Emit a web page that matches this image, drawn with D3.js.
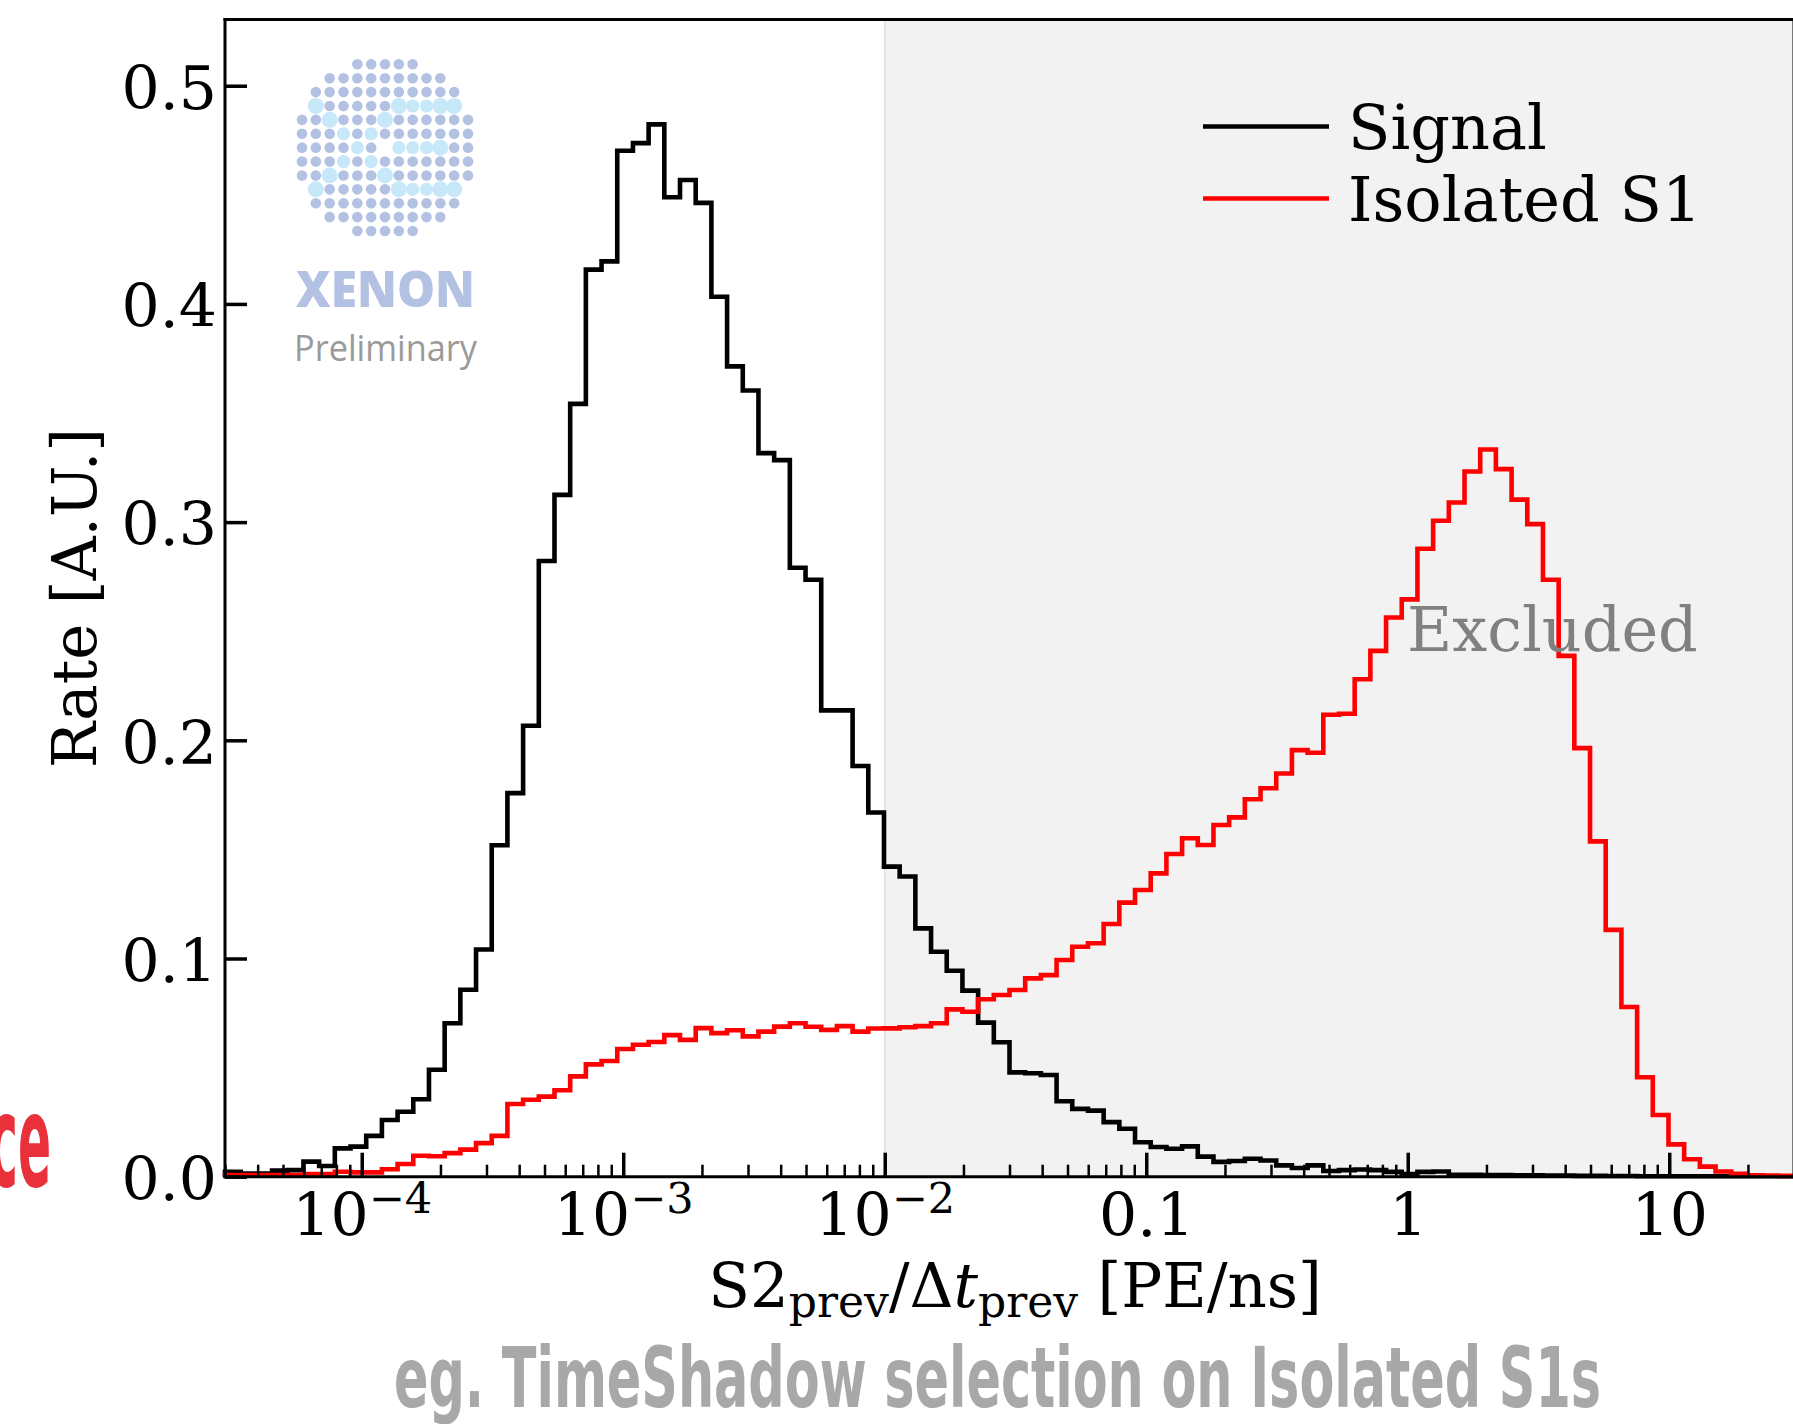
<!DOCTYPE html>
<html>
<head>
<meta charset="utf-8">
<script src="https://cdn.jsdelivr.net/npm/d3@7"></script>
<style>
  body { margin: 0; background: #fff; }
  svg { display: block; }
</style>
</head>
<body>
<svg id="chart" width="1793" height="1424"></svg>
<script>
// Histogram binning: 100 log-spaced bins
const binLo = 3e-5;
const binHi = 30;
const nBins = 100;
const excludedFrom = 1e-2;

// Normalised rates per bin
const signal = [
  0.0023, 0.0015, 0.0015, 0.0028, 0.0030, 0.0069, 0.0049, 0.0130, 0.0138, 0.0187,
  0.0260, 0.0298, 0.0355, 0.0490, 0.0703, 0.0857, 0.1041, 0.1519, 0.1758, 0.2067,
  0.2822, 0.3125, 0.3542, 0.4157, 0.4195, 0.4702, 0.4737, 0.4823, 0.4489, 0.4568,
  0.4463, 0.4033, 0.3714, 0.3603, 0.3316, 0.3284, 0.2791, 0.2736, 0.2137, 0.2137,
  0.1882, 0.1669, 0.1421, 0.1376, 0.1138, 0.1031, 0.0944, 0.0853, 0.0706, 0.0616,
  0.0478, 0.0474, 0.0466, 0.0346, 0.0311, 0.0303, 0.0250, 0.0220, 0.0158, 0.0136,
  0.0128, 0.0139, 0.0092, 0.0068, 0.0072, 0.0082, 0.0074, 0.0052, 0.0040, 0.0052,
  0.0026, 0.0030, 0.0033, 0.0030, 0.0022, 0.0012, 0.0022, 0.0024, 0.0009, 0.0009,
  0.0008, 0.0007, 0.0006, 0.0006, 0.0005, 0.0005, 0.0004, 0.0004, 0.0003, 0.0003,
  0.0002, 0.0002, 0.0002, 0.0002, 0.0002, 0.0002, 0.0002, 0.0002, 0.0002, 0.0002
];

const isolatedS1 = [
  0.0008, 0.0008, 0.0008, 0.0008, 0.0008, 0.0012, 0.0012, 0.0023, 0.0020, 0.0020,
  0.0034, 0.0058, 0.0096, 0.0094, 0.0108, 0.0124, 0.0154, 0.0187, 0.0333, 0.0353,
  0.0367, 0.0396, 0.0460, 0.0515, 0.0530, 0.0585, 0.0605, 0.0617, 0.0649, 0.0627,
  0.0681, 0.0658, 0.0671, 0.0643, 0.0665, 0.0688, 0.0703, 0.0687, 0.0673, 0.0690,
  0.0665, 0.0679, 0.0680, 0.0685, 0.0690, 0.0703, 0.0767, 0.0756, 0.0813, 0.0833,
  0.0856, 0.0909, 0.0924, 0.0993, 0.1054, 0.1070, 0.1158, 0.1256, 0.1314, 0.1390,
  0.1479, 0.1551, 0.1520, 0.1612, 0.1647, 0.1730, 0.1780, 0.1848, 0.1955, 0.1943,
  0.2117, 0.2122, 0.2280, 0.2410, 0.2563, 0.2646, 0.2878, 0.3006, 0.3090, 0.3232,
  0.3333, 0.3243, 0.3103, 0.2991, 0.2736, 0.2387, 0.1964, 0.1537, 0.1131, 0.0778,
  0.0456, 0.0283, 0.0148, 0.0080, 0.0046, 0.0024, 0.0013, 0.0006, 0.0005, 0.0004
];

const seriesNames = ["Signal", "Isolated S1"];
const seriesColors = ["#000000", "#ff0000"];

// Axis ticks
const yTicks = [0, 0.1, 0.2, 0.3, 0.4, 0.5];
const xMajorTicks = [1e-4, 1e-3, 1e-2, 1e-1, 1, 10];
const xTickLabels = ["10^\u22124", "10^\u22123", "10^\u22122", "0.1", "1", "10"];
const yMax = 0.5304;

// XENON logo dot grid: [row, firstCol, lastCol]
const logoRows = [
  [0, 4, 8], [1, 2, 10], [2, 1, 11], [3, 1, 11], [4, 0, 12], [5, 0, 12], [6, 0, 12],
  [7, 0, 12], [8, 0, 12], [9, 1, 11], [10, 1, 11], [11, 2, 10], [12, 4, 8]
];
// highlighted dots: [row, col, size]  (size: "L" large, "M" medium)
const logoHighlights = [
  [3, 1, "L"], [3, 7, "L"], [3, 8, "M"], [3, 9, "M"], [3, 10, "L"], [3, 11, "L"],
  [4, 2, "L"], [4, 6, "L"],
  [5, 3, "M"], [5, 5, "M"],
  [6, 4, "M"], [6, 7, "M"], [6, 8, "M"], [6, 9, "M"], [6, 10, "L"],
  [7, 3, "M"], [7, 5, "M"],
  [8, 2, "L"], [8, 6, "L"],
  [9, 1, "L"], [9, 7, "L"], [9, 8, "M"], [9, 9, "M"], [9, 10, "L"], [9, 11, "L"]
];
const logoGaps = [[6, 6]];

const svg = d3.select("#chart");
const W = 1793, H = 1424;
const plot = { left: 225, right: 1794, top: 19.4, bottom: 1176.7 };
const serif = "DejaVu Serif";
const tickFs = 60;
const labelFs = 61;
const legendFs = 62;

svg.append("rect").attr("width", W).attr("height", H).attr("fill", "#fff");

const x = d3.scaleLog().domain([binLo, binHi]).range([plot.left, plot.right]);
const y = d3.scaleLinear().domain([0, yMax]).range([plot.bottom, plot.top]);

const edges = d3.range(nBins + 1).map(i => binLo * Math.pow(binHi / binLo, i / nBins));

// Excluded region
svg.append("rect")
  .attr("x", x(excludedFrom))
  .attr("y", plot.top)
  .attr("width", x(binHi) - x(excludedFrom))
  .attr("height", plot.bottom - plot.top)
  .attr("fill", "#f2f2f2");
svg.append("line")
  .attr("x1", x(excludedFrom)).attr("x2", x(excludedFrom))
  .attr("y1", plot.top).attr("y2", plot.bottom)
  .attr("stroke", "#e3e3e3").attr("stroke-width", 2);

// Logo
const logo = svg.append("g");
const gx = d3.scalePoint().domain(d3.range(13)).range([302, 468]);
const gy = d3.scalePoint().domain(d3.range(13)).range([64.3, 231]);
const hl = new Map(logoHighlights.map(d => [d[0] + "," + d[1], d[2]]));
const gaps = new Set(logoGaps.map(d => d[0] + "," + d[1]));
const dots = [];
logoRows.forEach(([r, c0, c1]) => {
  for (let c = c0; c <= c1; c++) {
    const key = r + "," + c;
    if (gaps.has(key)) continue;
    dots.push({ r, c, s: hl.get(key) || "D" });
  }
});
logo.selectAll("circle").data(dots).join("circle")
  .attr("cx", d => gx(d.c))
  .attr("cy", d => gy(d.r))
  .attr("r", d => d.s === "L" ? 8 : d.s === "M" ? 6.6 : 5.3)
  .attr("fill", d => d.s === "D" ? "#b3c1e2" : "#c6e8f8");
logo.append("text")
  .attr("x", 296).attr("y", 307)
  .attr("font-family", "Open Sans").attr("font-weight", 800)
  .attr("font-size", 50).attr("fill", "#b3c1e2")
  .attr("textLength", 179).attr("lengthAdjust", "spacingAndGlyphs")
  .text("XENON");
logo.append("text")
  .attr("x", 294).attr("y", 361)
  .attr("font-family", "Open Sans").attr("font-size", 37).attr("fill", "#9a9a9a")
  .attr("textLength", 183).attr("lengthAdjust", "spacingAndGlyphs")
  .text("Preliminary");

// Step histograms
function stepPoints(vals) {
  const pts = [[edges[0], 0]];
  vals.forEach((v, i) => { pts.push([edges[i], v]); pts.push([edges[i + 1], v]); });
  pts.push([edges[nBins], 0]);
  return pts;
}
const line = d3.line().x(d => x(d[0])).y(d => y(d[1]));
[signal, isolatedS1].forEach((vals, k) => {
  svg.append("path")
    .attr("d", line(stepPoints(vals)))
    .attr("fill", "none")
    .attr("stroke", seriesColors[k])
    .attr("stroke-width", 4.6)
    .attr("stroke-linejoin", "miter");
});

// Excluded label
svg.append("text")
  .attr("x", 1407).attr("y", 651)
  .attr("font-family", serif).attr("font-size", legendFs).attr("fill", "#808080")
  .text("Excluded");

// X axis minor ticks
const xMinorTicks = [];
for (let k = -5; k <= 1; k++) {
  for (let m = 2; m <= 9; m++) {
    const v = m * Math.pow(10, k);
    if (v > binLo * 0.999 && v < binHi * 0.999) xMinorTicks.push(v);
  }
}
const gxMinor = svg.append("g").attr("transform", `translate(0,${plot.bottom})`)
  .call(d3.axisBottom(x).tickValues(xMinorTicks).tickSize(-12).tickSizeOuter(0).tickFormat(""));
gxMinor.select(".domain").remove();
gxMinor.selectAll(".tick line").attr("stroke", "#000").attr("stroke-width", 2.5);

const gxMajor = svg.append("g").attr("transform", `translate(0,${plot.bottom})`)
  .call(d3.axisBottom(x).tickValues(xMajorTicks).tickSize(-24).tickSizeOuter(0)
    .tickPadding(59).tickFormat(""));
gxMajor.select(".domain").remove();
gxMajor.attr("font-family", serif).attr("font-size", tickFs);
gxMajor.selectAll(".tick line").attr("stroke", "#000").attr("stroke-width", 3.5);
gxMajor.selectAll(".tick text")
  .attr("dy", 0).attr("fill", "#000")
  .each(function (d, i) {
    const t = d3.select(this);
    const parts = xTickLabels[i].split("^");
    t.append("tspan").text(parts[0]);
    if (parts.length > 1) {
      t.append("tspan").attr("font-size", 43).attr("dy", -23).text(parts[1]);
    }
  });

// Y axis
const gyAxis = svg.append("g").attr("transform", `translate(${plot.left},0)`)
  .call(d3.axisLeft(y).tickValues(yTicks).tickSize(-22).tickSizeOuter(0)
    .tickPadding(8).tickFormat(d3.format(".1f")));
gyAxis.select(".domain").remove();
gyAxis.attr("font-family", serif).attr("font-size", tickFs);
gyAxis.selectAll(".tick line").attr("stroke", "#000").attr("stroke-width", 3.5);
gyAxis.selectAll(".tick text").attr("dy", "0.38em").attr("fill", "#000");

// Frame
const spine = (x1, y1, x2, y2) => svg.append("line")
  .attr("x1", x1).attr("y1", y1).attr("x2", x2).attr("y2", y2)
  .attr("stroke", "#000").attr("stroke-width", 3).attr("stroke-linecap", "square");
spine(plot.left, plot.top, plot.right, plot.top);
spine(plot.left, plot.top, plot.left, plot.bottom);
spine(plot.left, plot.bottom, plot.right, plot.bottom);
spine(plot.right, plot.top, plot.right, plot.bottom);

// Axis titles
const xt = svg.append("text")
  .attr("x", 1015).attr("y", 1307)
  .attr("text-anchor", "middle")
  .attr("font-family", serif).attr("font-size", labelFs).attr("fill", "#000");
xt.append("tspan").text("S2");
xt.append("tspan").attr("font-size", 44).attr("dy", 10).text("prev");
xt.append("tspan").attr("dy", -10).text("/\u0394");
xt.append("tspan").attr("font-style", "italic").text("t");
xt.append("tspan").attr("font-size", 44).attr("dy", 10).text("prev");
xt.append("tspan").attr("dy", -10).text(" [PE/ns]");

svg.append("text")
  .attr("transform", "translate(96,598) rotate(-90)")
  .attr("text-anchor", "middle")
  .attr("font-family", serif).attr("font-size", labelFs).attr("fill", "#000")
  .text("Rate [A.U.]");

// Legend
const legendY = [126.5, 198.5];
seriesNames.forEach((name, k) => {
  svg.append("line")
    .attr("x1", 1203).attr("x2", 1329)
    .attr("y1", legendY[k]).attr("y2", legendY[k])
    .attr("stroke", seriesColors[k]).attr("stroke-width", 4.6);
  svg.append("text")
    .attr("x", 1348).attr("y", legendY[k] + 22)
    .attr("font-family", serif).attr("font-size", legendFs).attr("fill", "#000")
    .text(name);
});

// Slide captions
svg.append("text")
  .attr("x", 394).attr("y", 1407)
  .attr("font-family", "Liberation Sans Narrow, DejaVu Sans Condensed, sans-serif")
  .attr("font-weight", 700).attr("font-size", 84).attr("fill", "#a6a9a8")
  .attr("textLength", 1207).attr("lengthAdjust", "spacingAndGlyphs")
  .text("eg. TimeShadow selection on Isolated S1s");

svg.append("text")
  .attr("x", -11).attr("y", 1186)
  .attr("font-family", "Liberation Sans Narrow, DejaVu Sans Condensed, sans-serif")
  .attr("font-weight", 700).attr("font-size", 128).attr("fill", "#e8313b")
  .attr("textLength", 62).attr("lengthAdjust", "spacingAndGlyphs")
  .text("ce");
</script>
</body>
</html>
